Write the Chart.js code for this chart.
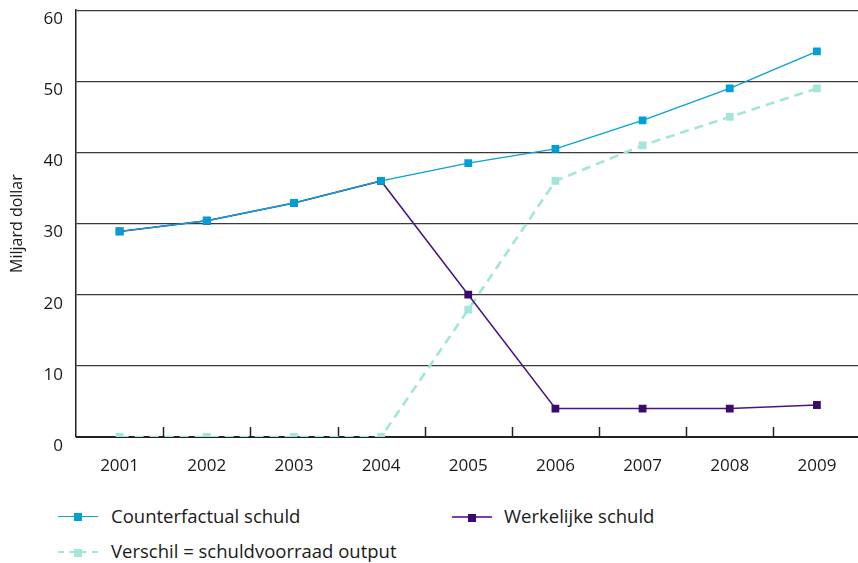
<!DOCTYPE html>
<html>
<head>
<meta charset="utf-8">
<script src="https://cdn.jsdelivr.net/npm/chart.js@4/dist/chart.umd.min.js"></script>
<style>
  html, body { margin: 0; padding: 0; background: #fff; overflow: hidden; }
  body { width: 858px; height: 563px; position: relative; font-family: "Open Sans", sans-serif; }
  #wrap { position: absolute; left: 0; top: -13px; width: 866px; height: 503px; }
  .leg { position: absolute; font-size: 18.5px; color: #1a1a1a; line-height: 22px; }
  .sample { position: absolute; width: 40px; height: 0; top: 11px; left: -53px; }
  .sample i { position: absolute; left: 16px; top: -4px; width: 8px; height: 8px; }
</style>
</head>
<body>
<div id="wrap"><canvas id="chart" width="866" height="503"></canvas></div>

<div class="leg" style="left:111px; top:505px;">
  <span class="sample" style="border-top:1.4px solid #0aa2d8;"><i style="background:#009fd6;"></i></span>
  Counterfactual schuld
</div>
<div class="leg" style="left:504px; top:505px;">
  <span class="sample" style="border-top:2px solid #7b3fa8; left:-52px;"><i style="background:#3c0a6b;"></i></span>
  Werkelijke schuld
</div>
<div class="leg" style="left:111px; top:540px;">
  <span class="sample" style="border-top:2.5px dashed #a2e6da;"><i style="background:#a2e6da;"></i></span>
  Verschil = schuldvoorraad output
</div>

<script>
const years = ["2001", "2002", "2003", "2004", "2005", "2006", "2007", "2008", "2009"];
const counterfactual = [28.9, 30.4, 32.9, 36.0, 38.5, 40.5, 44.5, 49.0, 54.2];
const werkelijk = [28.9, 30.4, 32.9, 36.0, 20.0, 4.0, 4.0, 4.0, 4.5];
const verschil = [0, 0, 0, 0, 17.9, 36.0, 41.0, 45.0, 49.0];
const yTicks = [0, 10, 20, 30, 40, 50, 60];

// small upward ticks between the categories, like the original
const innerTicks = {
  id: "innerTicks",
  beforeDatasetsDraw(chart) {
    const x = chart.scales.x;
    const ctx = chart.ctx;
    const bottom = chart.chartArea.bottom;
    ctx.save();
    ctx.strokeStyle = "#222";
    ctx.lineWidth = 1.5;
    for (let i = 1; i < years.length; i++) {
      const px = Math.round((x.getPixelForValue(i - 1) + x.getPixelForValue(i)) / 2) + 0.5;
      ctx.beginPath();
      ctx.moveTo(px, bottom);
      ctx.lineTo(px, bottom - 10);
      ctx.stroke();
    }
    // x axis line
    ctx.lineWidth = 2;
    ctx.beginPath();
    ctx.moveTo(chart.chartArea.left, bottom);
    ctx.lineTo(chart.chartArea.right, bottom);
    ctx.stroke();
    ctx.restore();
  }
};

new Chart(document.getElementById("chart"), {
  type: "line",
  data: {
    labels: years,
    datasets: [
      {
        label: "Counterfactual schuld",
        data: counterfactual,
        borderColor: "#0aa2d8",
        backgroundColor: "#009fd6",
        borderWidth: 1.4,
        pointStyle: "rect",
        pointRadius: 5.5,
        pointBorderWidth: 0,
        tension: 0
      },
      {
        label: "Werkelijke schuld",
        data: werkelijk,
        borderColor: "#4a1580",
        backgroundColor: "#3c0a6b",
        borderWidth: 1.5,
        pointStyle: "rect",
        pointRadius: 5.5,
        pointBorderWidth: 0,
        tension: 0
      },
      {
        label: "Verschil = schuldvoorraad output",
        data: verschil,
        borderColor: "#a2e6da",
        backgroundColor: "#a2e6da",
        borderWidth: 2.6,
        borderDash: [9, 6],
        pointStyle: "rect",
        pointRadius: 5.5,
        pointBorderWidth: 0,
        tension: 0
      }
    ]
  },
  options: {
    responsive: false,
    animation: false,
    layout: { padding: { top: 0, right: 2, left: 0, bottom: 0 } },
    plugins: {
      legend: { display: false },
      tooltip: { enabled: false }
    },
    scales: {
      x: {
        offset: true,
        grid: { display: false, drawTicks: false },
        border: { display: false },
        ticks: {
          color: "#1a1a1a",
          font: { family: "Open Sans", size: 17 },
          padding: 19,
          maxRotation: 0
        },
        afterFit(scale) { scale.height = 53; }
      },
      y: {
        min: 0,
        max: 60,
        afterBuildTicks(scale) { scale.ticks = yTicks.map(v => ({ value: v })); },
        grid: { color: "#3a3a3a", lineWidth: 1.3, drawTicks: false },
        border: { display: true, color: "#222", width: 1.5 },
        ticks: {
          color: "#1a1a1a",
          font: { family: "Open Sans", size: 17 },
          padding: 13,
          labelOffset: 9
        },
        title: {
          display: true,
          text: "Miljard dollar",
          color: "#1a1a1a",
          font: { family: "Open Sans", size: 16 },
          padding: { top: 8, bottom: 0 }
        },
        afterFit(scale) { scale.width = 76; }
      }
    }
  },
  plugins: [innerTicks]
});
</script>
</body>
</html>
